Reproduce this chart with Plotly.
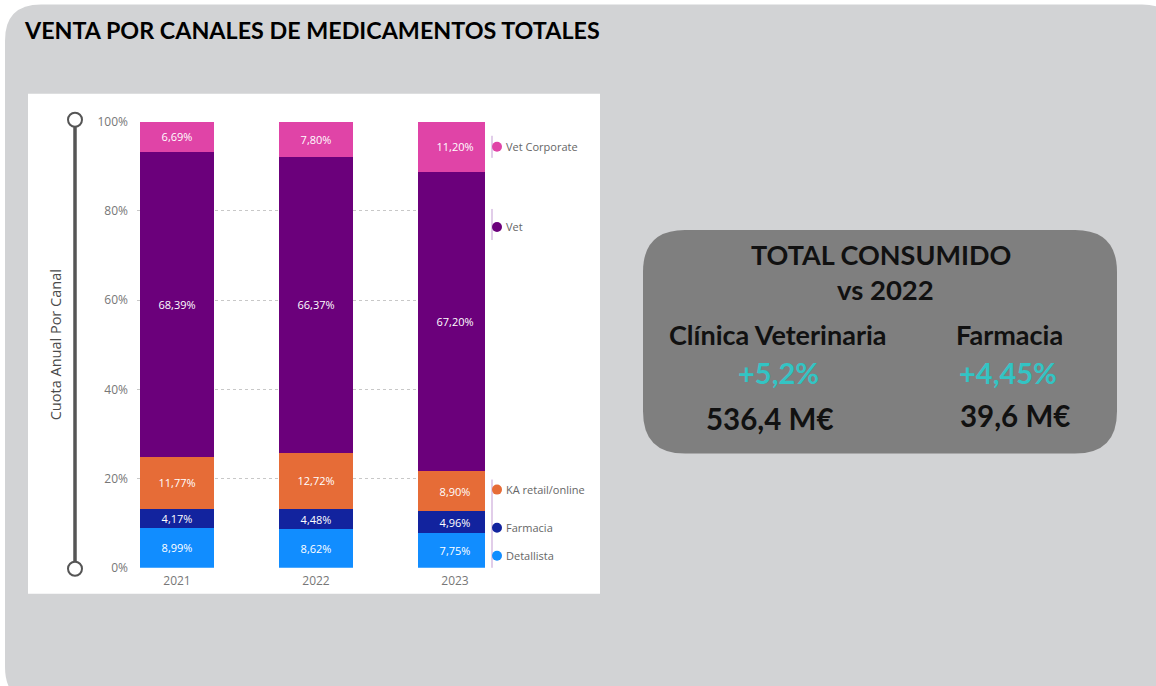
import plotly.graph_objects as go

W, H = 1156, 686
# vertical calibration of the captured page (measured from earlier renders)
SY, TY = 0.973, 9.5

years = ["2021", "2022", "2023"]
series_names = ["Detallista", "Farmacia", "KA retail/online", "Vet", "Vet Corporate"]
detallista = [8.99, 8.62, 7.75]
farmacia = [4.17, 4.48, 4.96]
ka_retail = [11.77, 12.72, 8.90]
vet = [68.39, 66.37, 67.20]
vet_corporate = [6.69, 7.80, 11.20]
series_values = [detallista, farmacia, ka_retail, vet, vet_corporate]
series_colors = ["#118DFF", "#12239E", "#E66C37", "#6B007B", "#E044A7"]

y_ticks = [0, 20, 40, 60, 80, 100]
y_ticktext = ["0%", "20%", "40%", "60%", "80%", "100%"]

title_text = "VENTA POR CANALES DE MEDICAMENTOS TOTALES"
yaxis_title = "Cuota Anual Por Canal"
kpi_title = ["TOTAL CONSUMIDO", "vs 2022"]
kpi_labels = ["Clínica Veterinaria", "Farmacia"]
kpi_growth = ["+5,2%", "+4,45%"]
kpi_values = ["536,4 M€", "39,6 M€"]


def px(x):
    return x / W


def py(y):
    return 1 - ((y - TY) / SY) / H


def fmt(v):
    return f"{v:.2f}".replace(".", ",") + "%"


fig = go.Figure()
for name, vals, col in zip(series_names, series_values, series_colors):
    fig.add_trace(go.Bar(
        x=years, y=vals, name=name,
        marker=dict(color=col, line=dict(width=0)),
        width=0.532,
        text=[fmt(v) for v in vals],
        textposition="inside", insidetextanchor="middle", textangle=0,
        constraintext="none",
        textfont=dict(color="white", size=11, family="Open Sans"),
        hoverinfo="skip",
    ))


def rounded_rect(x0, y0, x1, y1, r):
    pts = [
        f"M {px(x0 + r)},{py(y0)}",
        f"L {px(x1 - r)},{py(y0)}",
        f"Q {px(x1)},{py(y0)} {px(x1)},{py(y0 + r)}",
        f"L {px(x1)},{py(y1 - r)}",
        f"Q {px(x1)},{py(y1)} {px(x1 - r)},{py(y1)}",
        f"L {px(x0 + r)},{py(y1)}",
        f"Q {px(x0)},{py(y1)} {px(x0)},{py(y1 - r)}",
        f"L {px(x0)},{py(y0 + r)}",
        f"Q {px(x0)},{py(y0)} {px(x0 + r)},{py(y0)}",
        "Z",
    ]
    return " ".join(pts)


shapes = []
shapes.append(dict(type="path", xref="paper", yref="paper", layer="below",
                   path=rounded_rect(5, 5, 1178, 702, 36),
                   fillcolor="#D2D3D5", line=dict(width=0)))
shapes.append(dict(type="rect", xref="paper", yref="paper", layer="below",
                   x0=px(28), x1=px(600), y0=py(94), y1=py(593),
                   fillcolor="white", line=dict(width=0)))
shapes.append(dict(type="path", xref="paper", yref="paper", layer="below",
                   path=rounded_rect(643, 230, 1117, 453, 42),
                   fillcolor="#7F7F7F", line=dict(width=0)))
shapes.append(dict(type="line", xref="paper", yref="paper", layer="above",
                   x0=px(75), x1=px(75), y0=py(122), y1=py(567),
                   line=dict(color="#555555", width=3.5)))
for cy in (120, 568):
    shapes.append(dict(type="circle", xref="paper", yref="paper", layer="above",
                       x0=px(75 - 7), x1=px(75 + 7), y0=py(cy - 7), y1=py(cy + 7),
                       fillcolor="white", line=dict(color="#555555", width=2)))
for ya, yb in ((136, 158), (209, 240), (479, 567)):
    shapes.append(dict(type="line", xref="paper", yref="paper", layer="above",
                       x0=px(492), x1=px(492), y0=py(ya), y1=py(yb),
                       line=dict(color="#C39BD3", width=1)))

annotations = []
legend_y = {"Vet Corporate": 147, "Vet": 227, "KA retail/online": 489,
            "Farmacia": 527, "Detallista": 555}
for name, col in zip(series_names, series_colors):
    yy = legend_y[name]
    shapes.append(dict(type="circle", xref="paper", yref="paper", layer="above",
                       x0=px(492), x1=px(502), y0=py(yy - 5), y1=py(yy + 5),
                       fillcolor=col, line=dict(width=0)))
    annotations.append(dict(xref="paper", yref="paper", x=px(504), y=py(yy),
                            xanchor="left", yanchor="middle", showarrow=False,
                            text=name, font=dict(size=11, color="#666666", family="Open Sans")))

annotations.append(dict(xref="paper", yref="paper", x=px(55), y=py(345),
                        xanchor="center", yanchor="middle", showarrow=False, textangle=-90,
                        text=yaxis_title, font=dict(size=14.5, color="#4A4A4A", family="Open Sans")))

annotations.append(dict(xref="paper", yref="paper", x=px(22), y=py(30),
                        xanchor="left", yanchor="middle", showarrow=False,
                        text=f"<b>{title_text}</b>",
                        font=dict(size=23.3, color="#000000", family="Lato")))

kfont = "Lato"
annotations.append(dict(xref="paper", yref="paper", x=px(881), y=py(254),
                        xanchor="center", yanchor="middle", showarrow=False,
                        text=f"<b>{kpi_title[0]}</b>", font=dict(size=27, color="#111111", family=kfont)))
annotations.append(dict(xref="paper", yref="paper", x=px(885), y=py(289),
                        xanchor="center", yanchor="middle", showarrow=False,
                        text=f"<b>{kpi_title[1]}</b>", font=dict(size=27.5, color="#111111", family=kfont)))
for cx, lab in zip((778, 1009), kpi_labels):
    annotations.append(dict(xref="paper", yref="paper", x=px(cx), y=py(334),
                            xanchor="center", yanchor="middle", showarrow=False,
                            text=f"<b>{lab}</b>", font=dict(size=27, color="#111111", family=kfont)))
for cx, g in zip((778, 1008), kpi_growth):
    annotations.append(dict(xref="paper", yref="paper", x=px(cx), y=py(372),
                            xanchor="center", yanchor="middle", showarrow=False,
                            text=f"<b>{g}</b>", font=dict(size=29, color="#33C4C4", family=kfont)))
for cx, cyv, v in zip((770, 1015), (418, 415), kpi_values):
    annotations.append(dict(xref="paper", yref="paper", x=px(cx), y=py(cyv),
                            xanchor="center", yanchor="middle", showarrow=False,
                            text=f"<b>{v}</b>", font=dict(size=29.5, color="#111111", family=kfont)))

x_left = (137 - 177) / 139
x_right = (485 - 177) / 139

fig.update_layout(
    width=W, height=H,
    margin=dict(l=0, r=0, t=0, b=0),
    paper_bgcolor="white",
    plot_bgcolor="rgba(0,0,0,0)",
    barmode="stack",
    showlegend=False,
    shapes=shapes,
    annotations=annotations,
    xaxis=dict(domain=[px(137), px(485)], range=[x_left, x_right],
               type="category", showgrid=False, zeroline=False, showline=False,
               ticks="", tickfont=dict(size=12, color="#777777", family="Open Sans"),
               ticklabelstandoff=4, fixedrange=True),
    yaxis=dict(domain=[py(567), py(122)], range=[0, 100],
               tickvals=y_ticks, ticktext=y_ticktext,
               showgrid=True, gridcolor="#C8C8C8", griddash="dot", gridwidth=1,
               zeroline=False, showline=False, ticks="",
               tickfont=dict(size=12, color="#777777", family="Open Sans"),
               ticklabelstandoff=8, fixedrange=True),
)

fig.write_html(
    "out.html",
    config={"displayModeBar": False},
    post_script="document.body.style.margin='0';document.body.style.overflow='hidden';",
)
